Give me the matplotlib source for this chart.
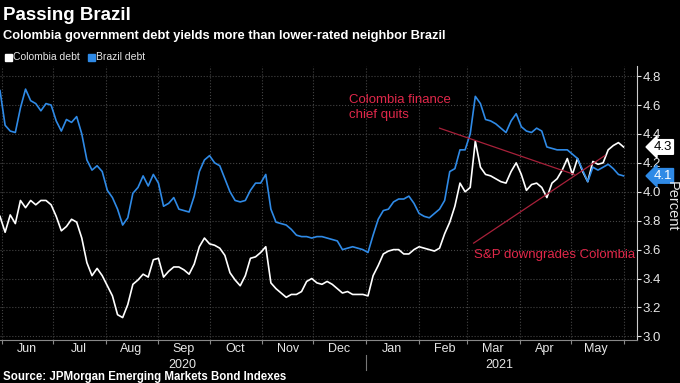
import pandas as pd
import matplotlib.pyplot as plt
import matplotlib.dates as mdates
import matplotlib.transforms as mtransforms

dates = pd.date_range('2020-05-31', periods=123, freq='3D')
brazil = [4.70, 4.46, 4.42, 4.41, 4.58, 4.71, 4.63, 4.61, 4.56, 4.61,
          4.60, 4.49, 4.42, 4.50, 4.48, 4.52, 4.40, 4.22, 4.15, 4.18,
          4.14, 4.01, 3.96, 3.88, 3.77, 3.82, 3.99, 4.03, 4.11, 4.04,
          4.12, 4.06, 3.90, 3.92, 3.96, 3.88, 3.87, 3.86, 3.97, 4.14,
          4.22, 4.25, 4.20, 4.18, 4.09, 4.00, 3.94, 3.93, 3.94, 4.01,
          4.06, 4.06, 4.12, 3.88, 3.79, 3.78, 3.77, 3.74, 3.70, 3.69,
          3.69, 3.68, 3.69, 3.69, 3.68, 3.67, 3.66, 3.60, 3.61, 3.62,
          3.61, 3.60, 3.58, 3.70, 3.81, 3.87, 3.88, 3.93, 3.95, 3.95,
          3.97, 3.92, 3.85, 3.83, 3.82, 3.85, 3.88, 3.94, 4.14, 4.16,
          4.29, 4.29, 4.40, 4.66, 4.61, 4.50, 4.49, 4.47, 4.44, 4.41,
          4.49, 4.54, 4.45, 4.42, 4.41, 4.44, 4.42, 4.31, 4.30, 4.29,
          4.29, 4.29, 4.26, 4.23, 4.15, 4.07, 4.17, 4.15, 4.17, 4.19,
          4.16, 4.12, 4.11]
colombia = [3.83, 3.72, 3.84, 3.78, 3.94, 3.89, 3.94, 3.91, 3.94, 3.94,
            3.91, 3.83, 3.73, 3.76, 3.81, 3.79, 3.68, 3.51, 3.42, 3.47,
            3.42, 3.35, 3.28, 3.15, 3.13, 3.22, 3.36, 3.39, 3.43, 3.41,
            3.53, 3.54, 3.41, 3.45, 3.48, 3.48, 3.46, 3.43, 3.50, 3.62,
            3.68, 3.64, 3.63, 3.61, 3.56, 3.44, 3.39, 3.35, 3.42, 3.54,
            3.55, 3.58, 3.62, 3.37, 3.33, 3.30, 3.27, 3.29, 3.29, 3.31,
            3.38, 3.40, 3.37, 3.36, 3.38, 3.36, 3.33, 3.30, 3.31, 3.29,
            3.29, 3.29, 3.28, 3.42, 3.49, 3.57, 3.59, 3.60, 3.60, 3.57,
            3.57, 3.60, 3.62, 3.61, 3.60, 3.59, 3.61, 3.71, 3.79, 3.90,
            4.06, 4.00, 4.03, 4.35, 4.17, 4.12, 4.11, 4.09, 4.07, 4.06,
            4.14, 4.20, 4.12, 4.01, 4.05, 4.06, 4.03, 3.96, 4.06, 4.09,
            4.15, 4.23, 4.12, 4.23, 4.14, 4.07, 4.21, 4.19, 4.20, 4.29,
            4.32, 4.34, 4.31]
yticks = [3.0, 3.2, 3.4, 3.6, 3.8, 4.0, 4.2, 4.4, 4.6, 4.8]

blue = '#2f8ae6'
red_txt = '#e0284a'
red_line = '#a8213a'
grid_c = '#444444'
txt_c = '#e6e6e6'

plt.rcParams['font.family'] = ['Liberation Sans', 'DejaVu Sans']

fig = plt.figure(figsize=(6.8, 3.83), dpi=100, facecolor='black')
ax = fig.add_axes([0.0, 0.1123, 0.937, 0.7154], facecolor='black')

ax.plot(dates, colombia, color='white', lw=1.2)
ax.plot(dates, brazil, color=blue, lw=1.2)

ax.set_xlim(pd.Timestamp('2020-05-31'), pd.Timestamp('2021-06-09'))
ax.set_ylim(2.975, 4.87)

ax.yaxis.tick_right()
ax.set_yticks(yticks)
ax.set_yticklabels([f'{v:.1f}' for v in yticks])
ax.tick_params(axis='y', colors=txt_c, labelsize=9.5, length=3, width=0.8,
               direction='out', pad=1)

ax.xaxis.set_major_locator(mdates.MonthLocator(bymonthday=1))
ax.xaxis.set_major_formatter(plt.NullFormatter())
ax.xaxis.set_minor_locator(mdates.MonthLocator(bymonthday=16))
ax.xaxis.set_minor_formatter(mdates.DateFormatter('%b'))
ax.tick_params(axis='x', which='major', colors='#888888', length=3, width=0.8)
ax.tick_params(axis='x', which='minor', colors=txt_c, length=0, labelsize=9, pad=2)

ax.grid(True, which='major', color=grid_c, ls=':', lw=0.8)

for s in ['top', 'left']:
    ax.spines[s].set_visible(False)
ax.spines['right'].set_color('#cccccc')
ax.spines['bottom'].set_color('#888888')

trans = mtransforms.blended_transform_factory(ax.transData, ax.transAxes)
ax.text(pd.Timestamp('2020-09-15'), -0.09, '2020', transform=trans, color=txt_c,
        fontsize=9, ha='center', va='center')
ax.text(pd.Timestamp('2021-03-20'), -0.09, '2021', transform=trans, color=txt_c,
        fontsize=9, ha='center', va='center')
ax.plot([pd.Timestamp('2021-01-01')] * 2, [-0.055, -0.11], transform=trans,
        color='#777777', lw=0.8, clip_on=False)

fig.text(0.988, 0.462, 'Percent', color=txt_c, fontsize=10.5, rotation=270,
         ha='center', va='center')

# last value boxes
ax.annotate(f'{colombia[-1]:.1f}', xy=(1.026, colombia[-1]),
            xycoords=('axes fraction', 'data'), color='black', fontsize=9.5,
            ha='left', va='center',
            bbox=dict(boxstyle='larrow,pad=0.1', fc='white', ec='white'))
ax.annotate(f'{brazil[-1]:.1f}', xy=(1.026, brazil[-1]),
            xycoords=('axes fraction', 'data'), color='white', fontsize=9.5,
            ha='left', va='center',
            bbox=dict(boxstyle='larrow,pad=0.1', fc=blue, ec=blue))

# event annotations
ax.plot([pd.Timestamp('2021-02-13'), pd.Timestamp('2021-05-03')], [4.44, 4.12],
        color=red_line, lw=0.9)
ax.text(pd.Timestamp('2020-12-22'), 4.49, 'Colombia finance\nchief quits',
        color=red_txt, fontsize=9.5, ha='left', va='bottom', linespacing=1.35)
ax.plot([pd.Timestamp('2021-03-05'), pd.Timestamp('2021-05-21')], [3.645, 4.25],
        color=red_line, lw=0.9)
ax.text(pd.Timestamp('2021-03-05'), 3.565, 'S&P downgrades Colombia',
        color=red_txt, fontsize=9.5, ha='left', va='center')

# titles, legend, source
fig.text(0.004, 0.96, 'Passing Brazil', color='white', fontsize=13.5,
         fontweight='bold', ha='left', va='center')
fig.text(0.004, 0.905, 'Colombia government debt yields more than lower-rated neighbor Brazil',
         color='white', fontsize=9.3, fontweight='bold', ha='left', va='center')

fig.canvas.draw()
renderer = fig.canvas.get_renderer()
x0 = 0.007
for name, col in [('Colombia debt', 'white'), ('Brazil debt', blue)]:
    fig.patches.append(plt.Rectangle((x0, 0.841), 0.010, 0.019, color=col,
                                     transform=fig.transFigure, figure=fig))
    t = fig.text(x0 + 0.012, 0.851, name, color=txt_c, fontsize=7.5,
                 ha='left', va='center')
    bb = t.get_window_extent(renderer)
    x0 = bb.x1 / fig.bbox.width + 0.012

fig.text(0.004, 0.016, 'Source: JPMorgan Emerging Markets Bond Indexes', color='white',
         fontsize=8.3, fontweight='bold', ha='left', va='center')

fig.savefig('out.png', dpi=100, facecolor='black')
